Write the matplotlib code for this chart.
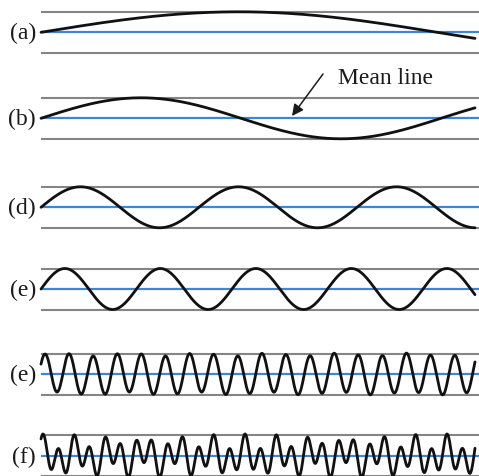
import numpy as np
import matplotlib
matplotlib.use("Agg")
import matplotlib.pyplot as plt

# ---- data ----
labels = ['(a)', '(b)', '(d)', '(e)', '(e)', '(f)']
# sinusoid components of each wave: amplitude (relative to band half-height),
# period (px of the drawing) and phase (rad)
wave_amps = [[1.0], [1.0], [1.0], [1.0], [0.95, 0.07], [0.70, 0.36]]
wave_periods = [[792.0], [400.0], [158.0], [95.5], [24.1, 70.0], [15.54, 33.7]]
wave_phases = [[0.0], [0.0], [0.0], [0.0], [0.53, 0.0], [0.76, 1.20]]
wave_length = 434.0           # horizontal extent of each trace (px)
mean_label = 'Mean line'

# ---- layout (pixels) ----
W, H = 479, 476
left_px = 41
centers = [32.3, 118.3, 207.3, 289.0, 374.0, 455.7]
half = 20.5
ylim = 1.3

fig = plt.figure(figsize=(W / 100, H / 100), dpi=100)
fig.patch.set_facecolor('white')

serif = ['Liberation Serif', 'DejaVu Serif']
axes = []
for i, lab in enumerate(labels):
    hpx = 2 * ylim * half
    bottom = (H - centers[i] - ylim * half) / H
    ax = fig.add_axes([left_px / W, bottom, (W - left_px) / W, hpx / H])
    ax.set_xlim(0, W - left_px)
    ax.set_ylim(-ylim, ylim)
    ax.axis('off')
    ax.axhline(1, color='#858585', lw=1.5, zorder=1)
    ax.axhline(-1, color='#858585', lw=1.5, zorder=1)
    ax.axhline(0, color='#3d86d6', lw=1.6, zorder=2)
    x = np.linspace(0, wave_length, 3000)
    y = np.zeros_like(x)
    for a, p, ph in zip(wave_amps[i], wave_periods[i], wave_phases[i]):
        y += a * np.sin(2 * np.pi * x / p + ph)
    ax.plot(x, y, color='#111111', lw=2.0, zorder=3, clip_on=False,
            solid_capstyle='round')
    fig.text(36 / W, 1 - (centers[i] + 1.5) / H, lab, ha='right', va='center',
             fontsize=17, family=serif, color='#1a1a1a')
    axes.append(ax)

fig.text(386 / W, 1 - 79 / H, mean_label, ha='center', va='center',
         fontsize=17, family=serif, color='#1a1a1a')
axes[1].annotate('', xy=(292, H - 116), xytext=(323, H - 74),
                 xycoords='figure pixels', textcoords='figure pixels',
                 arrowprops=dict(arrowstyle='-|>', color='#1a1a1a', lw=1.1,
                                 mutation_scale=17, shrinkA=0, shrinkB=0),
                 annotation_clip=False)

fig.savefig('out.png', dpi=100, facecolor='white')
